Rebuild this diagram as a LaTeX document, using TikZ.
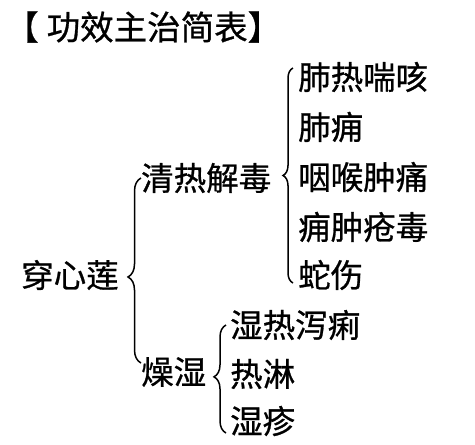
\documentclass[tikz,border=0pt]{standalone}
\usepackage{fontspec}
\setmainfont{Noto Sans CJK SC}[FakeBold=0.8]
\usetikzlibrary{decorations.pathreplacing}
\begin{document}
\begin{tikzpicture}[x=1pt,y=-1pt,
  txt/.style={font=\fontsize{32.5}{32.5}\selectfont, inner sep=0pt, anchor=west},
  brc/.style={decorate, decoration={brace, amplitude=#1}, line width=1.5pt},
  brc/.default=10pt]
\useasboundingbox[fill=white] (0,0) rectangle (475,445);
\node[txt, font=\fontsize{33.5}{33.5}\selectfont] (title) at (5,27) {【\kern8pt功效主治简表】};
\node[txt] (a1) at (298,77) {肺热喘咳};
\node[txt] (a2) at (298,127) {肺痈};
\node[txt] (a3) at (298,177) {咽喉肿痛};
\node[txt] (a4) at (298,227) {痈肿疮毒};
\node[txt] (a5) at (298,275) {蛇伤};
\node[txt] (qr) at (141,178) {清热解毒};
\node[txt] (root) at (21,275) {穿心莲};
\node[txt] (zs) at (141,372) {燥湿};
\node[txt] (b1) at (230,325) {湿热泻痢};
\node[txt] (b2) at (230,374) {热淋};
\node[txt] (b3) at (230,421) {湿疹};
\coordinate (q1) at (293,283);
\coordinate (q2) at (293,68);
\coordinate (r1) at (141,363);
\coordinate (r2) at (141,178);
\coordinate (z1) at (226,433);
\coordinate (z2) at (226,325);
\draw[brc=10pt] (q1) -- (q2);
\draw[brc=13pt, decoration={aspect=0.465}] (r1) -- (r2);
\draw[brc=12pt, decoration={aspect=0.52}] (z1) -- (z2);
\end{tikzpicture}
\end{document}
